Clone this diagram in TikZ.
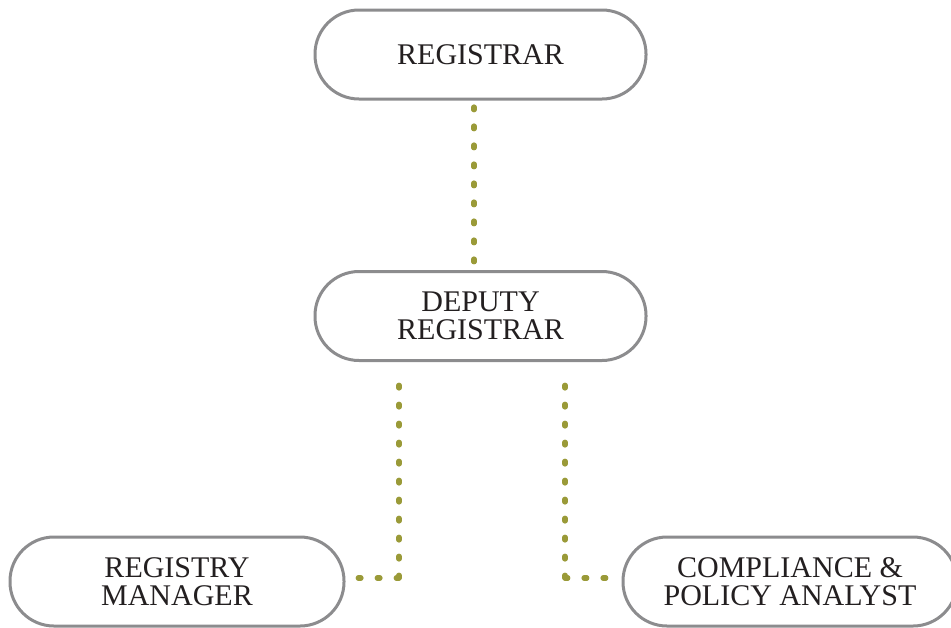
\documentclass[tikz,border=0pt]{standalone}
\usepackage{fontspec}
\setmainfont{Liberation Serif}
\usetikzlibrary{calc}
\definecolor{boxgray}{HTML}{8C8C8E}
\definecolor{dotolive}{HTML}{9A9A38}
\definecolor{inkdark}{HTML}{231F20}
\tikzset{
  role/.style={draw=boxgray,fill=white,rectangle,rounded corners=22pt,line width=1.5pt,minimum width=165.5pt,minimum height=44.5pt,inner sep=0pt,align=center,text=inkdark,font=\fontsize{15}{14}\selectfont},
  link/.style={draw=dotolive,line width=2.6pt,line cap=round,dash pattern=on 1.4pt off 8.1pt},
}

\begin{document}
\begin{tikzpicture}[x=0.5pt,y=-0.5pt]

  \useasboundingbox (0,0) rectangle (951,627);
  \clip (0,0) rectangle (951,627);

  % TOP: registrar and deputy
  \node[role] (reg) at (480.5, 54.5)  {REGISTRAR};
  \node[role] (dep) at (480.5, 316)   {DEPUTY\\REGISTRAR};
  \coordinate (ta) at (474, 107);
  \coordinate (tb) at (474, 265);
  \draw[link] (ta) -- (tb);

  % BOTTOM: the two reports
  \node[role,minimum width=167pt] (mgr) at (177, 581.5)  {REGISTRY\\MANAGER};
  \node[role,minimum width=167pt] (cpa) at (790, 581.5)  {COMPLIANCE \&\\POLICY ANALYST};
  \coordinate (lt) at (399, 380);
  \coordinate (lc) at (399, 578);
  \coordinate (le) at (356, 578);
  \coordinate (rt) at (565, 380);
  \coordinate (rc) at (565, 578);
  \coordinate (re) at (613, 578);
  \draw[link] (lc) -- (lt);
  \draw[link] (lc) -- (le);
  \draw[link] (rc) -- (rt);
  \draw[link] (rc) -- (re);

\end{tikzpicture}
\end{document}
